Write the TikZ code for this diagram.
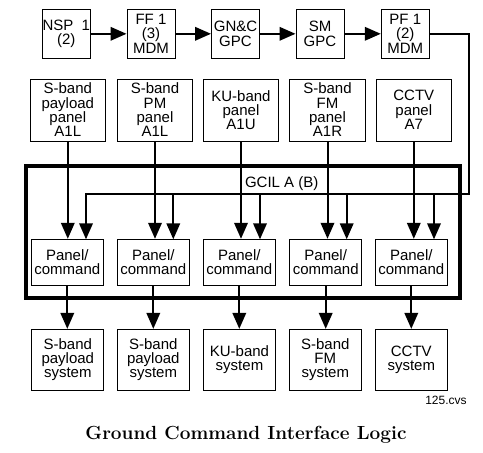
\documentclass[tikz,border=0pt]{standalone}
\usepackage{fontspec}
\setmainfont{Liberation Sans}
\newfontfamily\titlefont{Latin Modern Roman}
\usetikzlibrary{arrows.meta,calc}
\begin{document}
\begin{tikzpicture}[x=1pt,y=-1pt,
  box/.style={draw,line width=1pt,inner sep=0pt,align=center,
    font=\fontsize{15}{14.3}\selectfont},
  topbox/.style={box,minimum width=48pt,minimum height=49pt},
  panelbox/.style={box,minimum width=75.5pt,minimum height=62pt},
  pcbox/.style={box,minimum width=72pt,minimum height=46pt},
  sysbox/.style={box,minimum width=72pt,minimum height=60.7pt},
  conn/.style={line width=2pt},
  arr/.style={line width=2pt,-{Triangle[length=16pt,width=13.5pt]}},
]
\useasboundingbox[fill=white] (0,0) rectangle (483,453);
% top row
\node[topbox] (nsp) at (66.3,33.8) {NSP\ \ 1\\(2)};
\node[topbox] (ff)  at (151,33.8) {FF 1\\(3)\\MDM};
\node[topbox] (gnc) at (235.5,33.8) {GN\&C\\GPC};
\node[topbox] (sm)  at (320,33.8) {SM\\GPC};
\node[topbox] (pf)  at (405.3,33.8) {PF 1\\(2)\\MDM};
\draw[arr] (nsp) -- (ff);
\draw[arr] (ff) -- (gnc);
\draw[arr] (gnc) -- (sm);
\draw[arr] (sm) -- (pf);
% panels
\node[panelbox] (p1) at (67.8,110) {S-band\\payload\\panel\\A1L};
\node[panelbox] (p2) at (155,110) {S-band\\PM\\panel\\A1L};
\node[panelbox] (p3) at (241,110) {KU-band\\panel\\A1U};
\node[panelbox] (p4) at (327.5,110) {S-band\\FM\\panel\\A1R};
\node[panelbox] (p5) at (413.8,110) {CCTV\\panel\\A7};
% GCIL
\node[draw,line width=4pt,minimum width=434pt,minimum height=132.5pt,inner sep=0pt] (gcil) at (242.5,231.75) {};
\node[font=\fontsize{15}{14.3}\selectfont,inner sep=0pt] (gl) at (281.7,183.3) {GCIL A (B)};
% panel/command
\node[pcbox] (c1) at (67.3,262.3) {Panel/\\command};
\node[pcbox] (c2) at (153.3,262.3) {Panel/\\command};
\node[pcbox] (c3) at (239.3,262.3) {Panel/\\command};
\node[pcbox] (c4) at (325.7,262.3) {Panel/\\command};
\node[pcbox] (c5) at (411.3,262.3) {Panel/\\command};
% systems
\node[sysbox] (s1) at (67.8,359.7) {S-band\\payload\\system};
\node[sysbox] (s2) at (153.3,359.7) {S-band\\payload\\system};
\node[sysbox] (s3) at (239.5,359.7) {KU-band\\system};
\node[sysbox] (s4) at (325.3,359.7) {S-band\\FM\\system};
\node[sysbox] (s5) at (411.3,359.7) {CCTV\\system};
% panel to panel/command, panel/command to system
\foreach \i in {1,...,5}{
  \draw[arr] (p\i.south) -- (p\i.south |- c\i.north);
  \draw[arr] (c\i.south) -- (c\i.south |- s\i.north);
}
% bus from PF
\coordinate (turn) at (469.3,194.3);
\coordinate (d1) at (86,239.3);
\coordinate (d2) at (173.3,239.3);
\coordinate (d3) at (260,239.3);
\coordinate (d4) at (346.7,239.3);
\coordinate (d5) at (434,239.3);
\draw[conn,line cap=rect] (pf.east) -| (turn) -- (turn -| d1);
\foreach \i in {1,...,5}{
  \draw[arr] (d\i |- turn) -- (d\i);
}
% labels
\node[font=\fontsize{12}{12}\selectfont,inner sep=0pt] (cvs) at (446,400) {125.cvs};
\node[font=\titlefont\bfseries\fontsize{19}{20}\selectfont,inner sep=0pt] (title) at (246,435) {Ground Command Interface Logic};
\end{tikzpicture}
\end{document}
